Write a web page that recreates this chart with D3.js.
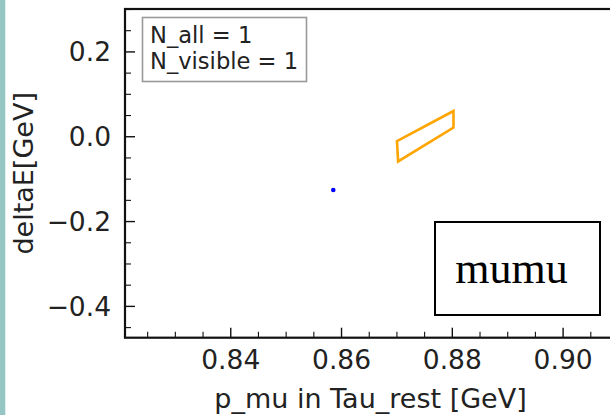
<!DOCTYPE html>
<html><head><meta charset="utf-8">
<script src="https://cdn.jsdelivr.net/npm/d3@7"></script>
<style>html,body{margin:0;padding:0;background:#fff;overflow:hidden}</style>
</head><body>
<svg id="c" width="610" height="415"></svg>
<script>
// data
const xDomain = [0.821, 0.910];
const yDomain = [-0.475, 0.30];
const xTicks = [0.84, 0.86, 0.88, 0.90];
const yTicks = [-0.4, -0.2, 0.0, 0.2];
const pointX = [0.8586];
const pointY = [-0.1266];
const polyX = [0.8701, 0.8803, 0.8803, 0.8703];
const polyY = [-0.0115, 0.0595, 0.0205, -0.0595];
const legendLines = ["N_all = 1", "N_visible = 1"];
const channel = "mumu";

const svg = d3.select("#c");
svg.append("rect").attr("x",0).attr("y",0).attr("width",5.3).attr("height",415).attr("fill","#95c6c3");

const L = 125, T = 9, R = 618, B = 337.7;
const x = d3.scaleLinear().domain(xDomain).range([L, R]);
const y = d3.scaleLinear().domain(yDomain).range([B, T]);

const xMinor = d3.range(0.825, 0.9101, 0.005).filter(v => !xTicks.some(t => Math.abs(t - v) < 1e-6));
const yMinor = d3.range(-0.45, 0.301, 0.05).filter(v => !yTicks.some(t => Math.abs(t - v) < 1e-6));

const font = "DejaVu Sans, sans-serif";

// x axis
const gx = svg.append("g").attr("transform", `translate(0,${B})`);
gx.call(d3.axisBottom(x).tickValues(xTicks).tickFormat(d3.format(".2f")).tickSizeInner(-10).tickSizeOuter(0).tickPadding(0));
gx.selectAll(".tick text").attr("font-family", font).attr("font-size", 26.5).attr("fill", "#222").attr("dy", null).attr("y", 31.5);
gx.select(".domain").remove();
gx.selectAll(".tick line").attr("stroke", "#111").attr("stroke-width", 1.4);
const gxm = svg.append("g").attr("transform", `translate(0,${B})`);
gxm.call(d3.axisBottom(x).tickValues(xMinor).tickFormat("").tickSizeInner(-6).tickSizeOuter(0));
gxm.select(".domain").remove();
gxm.selectAll(".tick line").attr("stroke", "#111").attr("stroke-width", 1.1);

// y axis
const gy = svg.append("g").attr("transform", `translate(${L},0)`);
gy.call(d3.axisLeft(y).tickValues(yTicks).tickFormat(d => d3.format(".1f")(d).replace("-", "\u2212")).tickSizeInner(-10).tickSizeOuter(0).tickPadding(15));
gy.selectAll(".tick text").attr("font-family", font).attr("font-size", 26.5).attr("fill", "#222").attr("x", -14).attr("dy", "0.36em");
gy.select(".domain").remove();
gy.selectAll(".tick line").attr("stroke", "#111").attr("stroke-width", 1.4);
const gym = svg.append("g").attr("transform", `translate(${L},0)`);
gym.call(d3.axisLeft(y).tickValues(yMinor).tickFormat("").tickSizeInner(-6).tickSizeOuter(0));
gym.select(".domain").remove();
gym.selectAll(".tick line").attr("stroke", "#111").attr("stroke-width", 1.1);

// frame
svg.append("rect").attr("x", L).attr("y", T).attr("width", R - L).attr("height", B - T)
  .attr("fill", "none").attr("stroke", "#111").attr("stroke-width", 2.2);

// axis titles
svg.append("text").attr("x", (L + R) / 2 - 1).attr("y", 408).attr("text-anchor", "middle")
  .attr("font-family", font).attr("font-size", 27).attr("fill", "#222").text("p_mu in Tau_rest [GeV]");
svg.append("text").attr("transform", `translate(32.5,${(T + B) / 2}) rotate(-90)`).attr("text-anchor", "middle")
  .attr("font-family", font).attr("font-size", 27).attr("fill", "#222").text("deltaE[GeV]");

// polygon
const polyPts = polyX.map((v, i) => [x(v), y(polyY[i])]);
svg.append("path").attr("d", d3.line()(polyPts) + "Z").attr("fill", "none")
  .attr("stroke", "#ffa500").attr("stroke-width", 2.6).attr("stroke-linejoin", "miter");

// point
svg.selectAll("circle.pt").data(pointX).join("circle").attr("class", "pt")
  .attr("cx", d => x(d)).attr("cy", (d, i) => y(pointY[i])).attr("r", 2.3).attr("fill", "#0000ff");

// legend
svg.append("rect").attr("x", 142.5).attr("y", 17.5).attr("width", 164).attr("height", 64)
  .attr("fill", "#fff").attr("stroke", "#999").attr("stroke-width", 1.6);
legendLines.forEach((s, i) => {
  svg.append("text").attr("x", 150).attr("y", 43 + i * 26).attr("font-family", font)
    .attr("font-size", 22.6).attr("fill", "#222").text(s);
});

// channel box
svg.append("rect").attr("x", 435).attr("y", 222).attr("width", 165).attr("height", 93)
  .attr("fill", "#fff").attr("stroke", "#000").attr("stroke-width", 2);
svg.append("text").attr("x", 511.5).attr("y", 283).attr("text-anchor", "middle")
  .attr("font-family", "Liberation Serif, Times New Roman, serif").attr("font-size", 44).attr("fill", "#000").text(channel);
</script>
</body></html>
